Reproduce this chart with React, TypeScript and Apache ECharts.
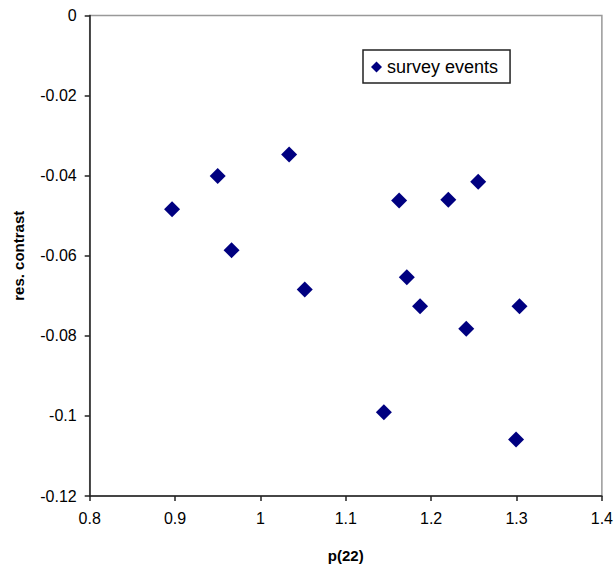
import React, { useEffect, useRef } from "react";
import * as echarts from "echarts";

const seriesName = "survey events";
const xValues = [0.8965, 0.9499, 0.9662, 1.0336, 1.0519, 1.1446, 1.1625, 1.1715, 1.187, 1.2201, 1.2411, 1.2551, 1.3035, 1.2995];
const yValues = [-0.0484, -0.0401, -0.0586, -0.0347, -0.0684, -0.0991, -0.0462, -0.0654, -0.0726, -0.046, -0.0782, -0.0415, -0.0726, -0.1059];
const xAxisTitle = "p(22)";
const yAxisTitle = "res. contrast";

export default function App() {
  const ref = useRef<HTMLDivElement>(null);
  useEffect(() => {
    document.body.style.margin = "0";
    if (!ref.current) return;
    const chart = echarts.init(ref.current, null, { renderer: "svg" });
    const font = "'Liberation Sans', Arial, sans-serif";
    chart.setOption({
      animation: false,
      backgroundColor: "#ffffff",
      grid: {
        left: 89.7,
        top: 15.5,
        right: 12.7,
        bottom: 67,
        show: true,
        borderColor: "#999999",
        borderWidth: 1.5,
        backgroundColor: "transparent",
      },
      legend: {
        left: 363,
        top: 50,
        orient: "horizontal",
        icon: "diamond",
        itemWidth: 11,
        itemHeight: 11,
        padding: [8, 12, 7, 8],
        borderColor: "#222222",
        borderWidth: 1.5,
        itemStyle: { opacity: 1 },
        textStyle: { fontFamily: font, fontSize: 18, color: "#000000" },
        data: [seriesName],
      },
      xAxis: {
        type: "value",
        min: 0.8,
        max: 1.4,
        interval: 0.1,
        name: xAxisTitle,
        nameLocation: "middle",
        nameGap: 52,
        nameTextStyle: { fontFamily: font, fontSize: 15, fontWeight: "bold", color: "#000000" },
        axisLine: { show: true, onZero: false, lineStyle: { color: "#222222", width: 1.5 } },
        axisTick: { show: true, inside: false, length: 5, lineStyle: { color: "#222222", width: 1.5 } },
        axisLabel: { margin: 14, fontFamily: font, fontSize: 16, color: "#000000" },
        splitLine: { show: false },
      },
      yAxis: {
        type: "value",
        min: -0.12,
        max: 0,
        interval: 0.02,
        name: yAxisTitle,
        nameLocation: "middle",
        nameGap: 64,
        nameTextStyle: { fontFamily: font, fontSize: 15, fontWeight: "bold", color: "#000000" },
        axisLine: { show: true, onZero: false, lineStyle: { color: "#222222", width: 1.5 } },
        axisTick: { show: true, inside: false, length: 5, lineStyle: { color: "#222222", width: 1.5 } },
        axisLabel: { margin: 13, fontFamily: font, fontSize: 16, color: "#000000" },
        splitLine: { show: false },
      },
      series: [
        {
          name: seriesName,
          type: "scatter",
          symbol: "diamond",
          symbolSize: 16,
          itemStyle: { color: "#000080", opacity: 1 },
          data: xValues.map((x, i) => [x, yValues[i]]),
        },
      ],
    });
    return () => chart.dispose();
  }, []);
  return <div ref={ref} style={{ width: 616, height: 568 }} />;
}
